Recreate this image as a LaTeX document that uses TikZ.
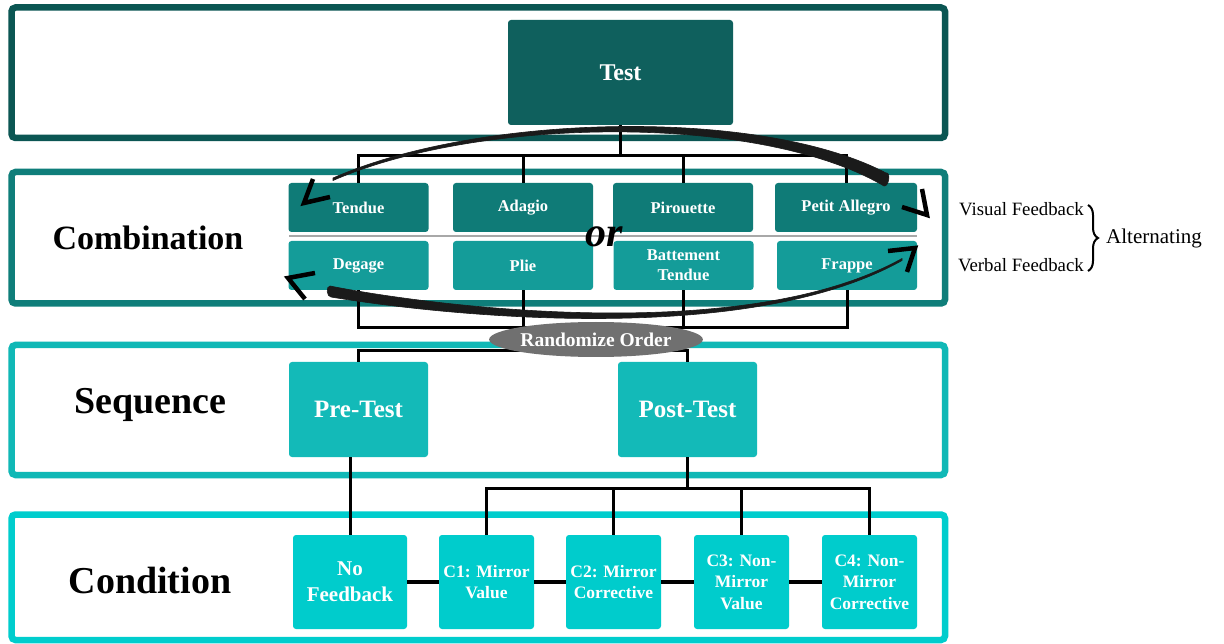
\documentclass[tikz,border=0pt]{standalone}
\usepackage{fontspec}
\setmainfont{Liberation Serif}
\usetikzlibrary{decorations.pathreplacing,shapes.geometric}

\definecolor{bandA}{HTML}{0B5653}
\definecolor{bandB}{HTML}{0F7E7A}
\definecolor{bandC}{HTML}{10B8B6}
\definecolor{bandD}{HTML}{00CDCD}
\definecolor{testfill}{HTML}{0F605D}
\definecolor{rowtop}{HTML}{0F7B77}
\definecolor{rowbot}{HTML}{149C99}
\definecolor{seqfill}{HTML}{13BAB8}
\definecolor{condfill}{HTML}{00CCCC}
\definecolor{ovalgray}{HTML}{707070}
\definecolor{sepgray}{HTML}{A8A8A8}
\definecolor{inkblack}{HTML}{1A1A1A}

\begin{document}
\begin{tikzpicture}[x=1pt,y=-1pt,
  band/.style={line width=6.5pt, rounded corners=4pt},
  box/.style={rectangle, rounded corners=3pt, inner sep=0pt, text=white,
    align=center},
  combtop/.style={box, fill=rowtop, minimum width=140pt, minimum height=49pt,
    font=\bfseries\fontsize{16.5}{20}\selectfont},
  combbot/.style={combtop, fill=rowbot},
  seqbox/.style={box, fill=seqfill, minimum width=139pt, minimum height=95pt,
    font=\bfseries\fontsize{25}{28}\selectfont},
  condbox/.style={box, fill=condfill, minimum width=95pt, minimum height=94pt,
    font=\bfseries\fontsize{17.5}{21.5}\selectfont},
  link/.style={draw=black, line width=3pt},
  condlink/.style={draw=black, line width=4.5pt},
  rowlabel/.style={font=\bfseries\fontsize{38}{40}\selectfont},
  chevron/.style={draw=black, line width=4.5pt, miter limit=10},
  ink/.style={fill=inkblack, draw=inkblack, line width=0.6pt, line join=round}]

\useasboundingbox (0,0) rectangle (1224,644);
\fill[white] (0,0) rectangle (1224,644);

% level frames
\draw[band, draw=bandA] (11.5,7.5) rectangle (945,138);
\draw[band, draw=bandB] (11.5,172) rectangle (945,303.5);
\draw[band, draw=bandC] (11.5,345) rectangle (945,475);
\draw[band, draw=bandD] (11.5,514.5) rectangle (945,640);

% level titles
\node[rowlabel, font=\bfseries\fontsize{34}{36}\selectfont] (lcomb) at (148,238) {Combination};
\node[rowlabel] (lseq) at (150,405) {Sequence};
\node[rowlabel] (lcond) at (150,580) {Condition};

% test
\node[box, fill=testfill, minimum width=225pt, minimum height=105pt,
  font=\bfseries\fontsize{24}{26}\selectfont] (test) at (620.5,72.5) {Test};

% combination blocks
\node[combtop] (tendue) at (358.5,207.5) {Tendue};
\node[combtop] (adagio) at (523,207.5) {Adagio};
\node[combtop] (pirou) at (683,207.5) {Pirouette};
\node[combtop, minimum width=142pt] (petit) at (846,207.5) {Petit Allegro};
\node[combbot] (degage) at (358.5,265.5) {Degage};
\node[combbot] (plie) at (523,265.5) {Plie};
\node[combbot] (batt) at (683.5,265.5) {Battement\\Tendue};
\node[combbot] (frappe) at (847,265.5) {Frappe};

\draw[line width=2pt, draw=sepgray] (289,236) -- (917,236);
\node[font=\bfseries\itshape\fontsize{42}{42}\selectfont, inner sep=0pt] (orword) at (604,237) {or};

% sequence blocks
\node[seqbox] (pre) at (358.5,409.5) {Pre-Test};
\node[seqbox] (post) at (687.5,409.5) {Post-Test};

% condition blocks
\node[condbox, minimum width=114pt, font=\bfseries\fontsize{21}{26}\selectfont] (nofb) at (350,582) {No\\Feedback};
\node[condbox] (c1) at (486.5,582) {C1: Mirror\\Value};
\node[condbox] (c2) at (613.5,582) {C2: Mirror\\Corrective};
\node[condbox] (c3) at (741.5,582) {C3: Non-\\Mirror\\Value};
\node[condbox] (c4) at (869.5,582) {C4: Non-\\Mirror\\Corrective};

% tree connectors
\coordinate (topbar) at (0,156);
\coordinate (lowbar) at (0,328);
\coordinate (seqbar) at (0,351);
\coordinate (condbar) at (0,488);

\draw[link] (test.south) -- (test.south |- topbar);
\draw[link] (tendue.north) |- (petit.north |- topbar) -- (petit.north);
\draw[link] (adagio.north) -- (adagio.north |- topbar);
\draw[link] (pirou.north) -- (pirou.north |- topbar);

\draw[link] (degage.south) |- (frappe.south |- lowbar) -- (frappe.south);
\draw[link] (plie.south) -- (plie.south |- lowbar);
\draw[link] (batt.south) -- (batt.south |- lowbar);

\draw[link] (pre.north) |- (post.north |- seqbar) -- (post.north);

\draw[link] (nofb.north) -- (nofb.north |- pre.south);
\draw[link] (post.south) -- (post.south |- condbar);
\draw[link] (c1.north) |- (c4.north |- condbar) -- (c4.north);
\draw[link] (c2.north) -- (c2.north |- condbar);
\draw[link] (c3.north) -- (c3.north |- condbar);

\draw[condlink] (nofb.east) -- (c1.west);
\draw[condlink] (c1.east) -- (c2.west);
\draw[condlink] (c2.east) -- (c3.west);
\draw[condlink] (c3.east) -- (c4.west);

% randomize oval
\node[ellipse, fill=ovalgray, minimum width=198pt, minimum height=35pt, inner sep=0pt,
  text=white, font=\bfseries\fontsize{19.5}{21}\selectfont] (rand) at (596,339.5) {Randomize Order};

% feedback alternation
\node[anchor=east, inner sep=0pt, font=\fontsize{18.8}{20}\selectfont] (vis) at (1084,209) {Visual Feedback};
\node[anchor=east, inner sep=0pt, font=\fontsize{18.8}{20}\selectfont] (verb) at (1084,265) {Verbal Feedback};
\draw[decorate, decoration={brace, amplitude=10pt}, line width=2pt]
  (1088,205) -- (1088,271) coordinate[midway] (bracemid);
\node[anchor=west, inner sep=0pt, font=\fontsize{21}{23}\selectfont] (alt) at (1106,238) {Alternating};

% brush-stroke swap arrows
\path[ink] (333,178) .. controls (480,113.5) and (760,107) .. (886,173)
  to[out=20,in=-10] (884,186)
  .. controls (760,113) and (480,116.5) .. (333,180.5) -- cycle;
\path[ink] (330,286) to[out=180,in=180] (331,297)
  .. controls (420,312) and (740,351.5) .. (902,260.5)
  -- (902,258.5)
  .. controls (740,348.5) and (420,304) .. (330,286) -- cycle;

\draw[chevron] (313,179) -- (304,203) -- (330,197);
\draw[chevron] (315,273) -- (288,278) -- (305,299);
\draw[chevron] (922,189) -- (927,215) -- (902,207);
\draw[chevron] (888,251) -- (915,248) -- (907,272);

\end{tikzpicture}
\end{document}
